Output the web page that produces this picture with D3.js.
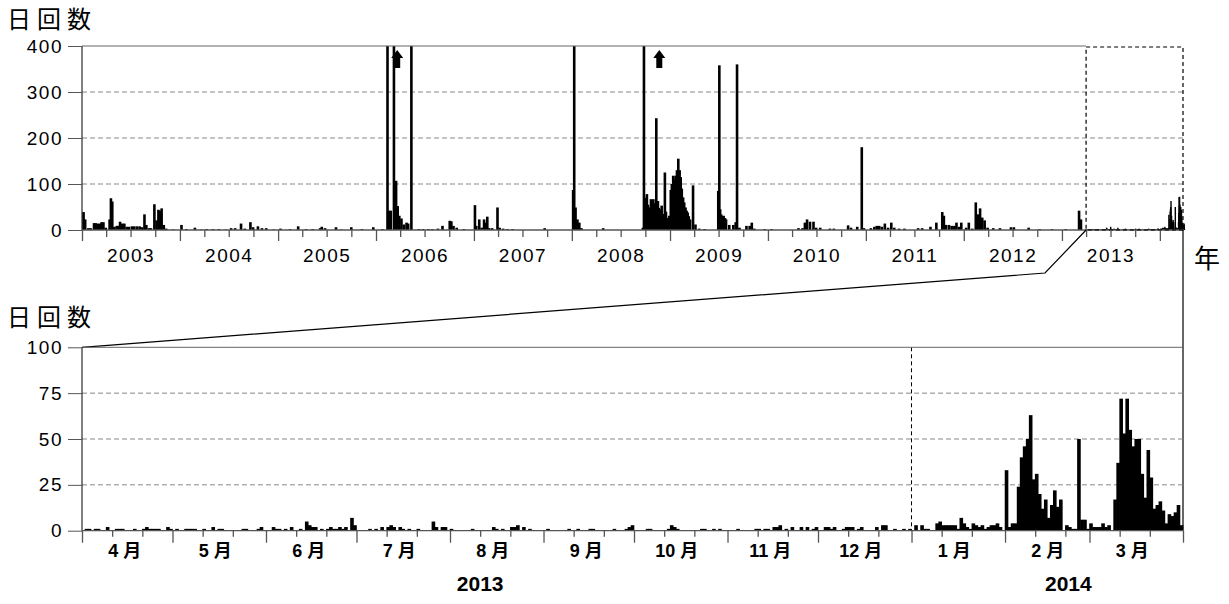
<!DOCTYPE html>
<html>
<head>
<meta charset="utf-8">
<script src="https://cdn.jsdelivr.net/npm/d3@7"></script>
<style>
  body { margin: 0; background: #fff; }
  svg { display: block; }
  .num { font-family: "Liberation Sans", Arial, sans-serif; font-size: 19px; letter-spacing: 1.5px; fill: #000; }
  .mon { font-family: "Liberation Sans", Arial, "Noto Sans CJK JP", sans-serif; font-size: 18px; font-weight: bold; fill: #000; }
  .yr { font-family: "Liberation Sans", Arial, sans-serif; font-size: 21px; font-weight: bold; fill: #000; }
  .cjk { font-family: "Noto Sans CJK JP", sans-serif; fill: #000; }
</style>
</head>
<body>
<svg id="chart" width="1229" height="604"></svg>
<script>
// ---- data: daily counts (日回数) ----
// long-term panel, 2003-01 .. 2013-03 (only days with events)
const topDates = [
  '2003-01-02','2003-01-08','2003-01-20','2003-01-28','2003-02-10','2003-02-16','2003-02-24','2003-03-04',
  '2003-03-10','2003-03-17','2003-03-26','2003-04-09','2003-04-14','2003-04-19','2003-04-27','2003-05-06',
  '2003-05-12','2003-05-18','2003-05-26','2003-06-03','2003-06-12','2003-06-20','2003-07-01','2003-07-10',
  '2003-07-20','2003-07-30','2003-08-08','2003-08-17','2003-08-24','2003-09-03','2003-09-10','2003-09-23',
  '2003-10-01','2003-10-08','2003-10-15','2003-10-20','2003-10-28','2003-11-06','2003-12-02',
  '2004-01-02','2004-01-20','2004-02-21','2004-03-15','2004-04-05','2004-04-28','2004-05-20','2004-06-15',
  '2004-07-05','2004-07-20','2004-08-11','2004-08-25','2004-09-15','2004-09-25','2004-10-13','2004-10-28',
  '2004-11-13','2004-12-10',
  '2005-01-05','2005-02-10','2005-03-12','2005-04-10','2005-05-05','2005-06-02','2005-06-08','2005-06-20',
  '2005-07-31','2005-08-20','2005-09-26','2005-11-05','2005-12-17',
  '2006-01-20','2006-02-08','2006-02-14','2006-02-20','2006-03-04','2006-03-12','2006-03-18','2006-03-24',
  '2006-04-01','2006-04-10','2006-04-20','2006-04-26','2006-05-08','2006-06-05','2006-06-20','2006-07-10',
  '2006-07-25','2006-08-15','2006-09-01','2006-09-28','2006-10-04','2006-10-12','2006-10-24','2006-11-20',
  '2006-12-31',
  '2007-01-05','2007-01-16','2007-01-25','2007-02-03','2007-02-09','2007-02-15','2007-02-22','2007-03-05',
  '2007-03-25','2007-04-02','2007-04-15','2007-05-01','2007-05-20','2007-09-17',
  '2008-01-01','2008-01-05','2008-01-10','2008-01-17','2008-01-24','2008-02-01','2008-04-22','2008-09-17',
  '2008-09-21','2008-09-27','2008-10-02','2008-10-06','2008-10-11','2008-10-17','2008-10-21','2008-10-26',
  '2008-10-30','2008-11-02','2008-11-06','2008-11-09','2008-11-12','2008-11-15','2008-11-18','2008-11-22',
  '2008-11-26','2008-11-30','2008-12-04','2008-12-08','2008-12-12','2008-12-16','2008-12-20','2008-12-24',
  '2008-12-30',
  '2009-01-03','2009-01-08','2009-01-12','2009-01-17','2009-01-22','2009-01-27','2009-02-01','2009-02-05',
  '2009-02-09','2009-02-14','2009-02-18','2009-02-23','2009-02-27','2009-03-03','2009-03-07','2009-03-12',
  '2009-03-23','2009-04-01','2009-04-15','2009-05-05','2009-06-25','2009-06-29','2009-07-02','2009-07-06',
  '2009-07-10','2009-07-15','2009-07-20','2009-07-24','2009-08-05','2009-08-20','2009-08-29','2009-09-03',
  '2009-09-12','2009-10-08','2009-10-20','2009-10-28','2009-11-06','2009-12-15',
  '2010-01-10','2010-04-20','2010-05-05','2010-05-14','2010-05-22','2010-06-02','2010-06-15','2010-06-25',
  '2010-07-10','2010-08-15','2010-08-30','2010-10-22','2010-11-02','2010-11-25','2010-12-12','2010-12-20',
  '2011-01-15','2011-01-28','2011-02-06','2011-02-15','2011-02-25','2011-03-08','2011-03-20','2011-04-01',
  '2011-04-12','2011-04-30','2011-05-20','2011-07-10','2011-07-25','2011-08-25','2011-09-16','2011-10-08',
  '2011-10-14','2011-10-22','2011-11-02','2011-11-12','2011-11-22','2011-11-30','2011-12-10','2011-12-18',
  '2012-01-05','2012-01-15','2012-01-28','2012-02-10','2012-02-18','2012-02-26','2012-03-05','2012-03-14',
  '2012-03-25','2012-04-15','2012-05-10','2012-06-20','2012-07-01','2012-08-25','2012-10-05','2012-11-20',
  '2013-01-10','2013-03-01','2013-03-08'
];
const topCounts = [
  39,23,4,4,15,15,14,14,
  17,17,5,23,69,62,7,9,
  9,18,14,14,7,7,8,8,
  8,8,6,34,11,4,4,56,
  21,44,42,47,11,3,1,
  11,2,5,1,2,2,2,1,
  4,4,14,3,17,6,8,4,
  4,1,
  3,2,8,2,2,4,7,4,
  6,1,6,2,6,
  2,900,42,42,1500,107,52,31,
  25,12,16,14,600,2,2,2,
  2,3,9,20,19,9,5,2,
  54,
  9,23,5,23,16,29,4,4,
  49,5,3,2,2,4,
  87,800,49,23,16,4,4,5,
  1000,70,78,55,49,67,60,67,
  50,58,243,55,63,48,42,45,
  53,35,28,125,40,20,26,31,
  87,
  100,118,110,118,130,155,130,115,
  90,71,60,49,42,38,30,23,
  97,12,3,2,85,358,45,34,
  30,31,26,23,11,11,17,360,
  5,9,9,16,3,2,
  2,4,4,16,23,18,18,5,
  5,3,3,10,5,7,180,4,
  4,7,9,9,7,14,5,16,
  5,3,3,4,4,7,16,39,
  31,11,11,9,9,16,7,16,
  5,16,3,60,34,47,27,21,
  5,4,4,6,6,5,2,2,
  2,42,23
];
// eruption markers (arrows)
const arrowDates = ['2006-03-21', '2008-11-22'];

// enlarged panel, one value per day from 2013-04-01
const zoomStart = '2013-04-01';
const apr2013 = [0,1,1,0,1,1,0,0,2,0,0,1,1,1,0,0,0,1,0,0,1,2,1,1,1,1,0,0,2,1];
const may2013 = [0,1,0,0,1,1,1,1,0,0,1,0,0,2,0,1,1,0,0,0,0,0,0,1,1,0,0,0,1,2,0];
const jun2013 = [0,0,2,1,1,0,1,0,2,0,0,1,0,5,3,2,2,0,1,0,1,2,1,1,2,1,2,0,7,3];
const jul2013 = [0,0,0,0,1,0,1,0,2,0,2,3,2,0,2,1,0,1,0,0,1,0,0,0,0,5,2,0,2,2,0];
const aug2013 = [1,0,0,0,0,0,0,1,0,0,0,0,0,0,2,1,0,1,0,0,2,2,3,0,2,0,1,0,0,0,0];
const sep2013 = [0,1,0,0,0,0,0,0,1,0,0,1,0,0,0,1,1,0,0,0,0,0,0,1,0,0,0,1,2,3];
const oct2013 = [0,0,0,0,1,1,0,0,0,0,0,1,3,2,1,0,0,0,0,0,0,0,1,1,0,0,1,0,1,0,0];
const nov2013 = [0,0,0,1,0,0,0,0,0,1,1,0,1,1,0,2,2,3,0,1,0,2,0,0,2,0,2,0,1,2];
const dec2013 = [0,0,2,2,1,2,0,0,1,2,2,2,0,1,2,0,0,0,0,2,0,3,3,0,0,1,0,0,1,0,1];
const jan2014 = [0,3,0,3,1,1,0,0,4,5,3,3,3,3,3,1,7,4,2,1,4,3,2,3,1,2,3,3,4,2,0];
const feb2014 = [33,2,4,4,24,40,46,50,63,28,31,20,12,17,7,14,22,13,17,0,3,2,1,1,50,6,6,1];
const mar2014 = [4,2,2,2,4,2,3,0,17,37,72,53,72,55,46,50,50,31,18,44,29,12,14,16,11,4,9,8,10,14,3];

const topYTicks = [0, 100, 200, 300, 400];
const bottomYTicks = [0, 25, 50, 75, 100];
const yearLabels = [
  {label: '2013', date: '2013-08-11'},
  {label: '2014', date: '2014-02-22'}
];

// ---- build ----
const parse = d3.utcParse('%Y-%m-%d');
const topData = topDates.map((d, i) => ({date: parse(d), value: topCounts[i]}));
const zoomCounts = [apr2013, may2013, jun2013, jul2013, aug2013, sep2013,
                    oct2013, nov2013, dec2013, jan2014, feb2014, mar2014].flat();
const z0 = parse(zoomStart);
const zoomData = zoomCounts.map((v, i) => ({date: d3.utcDay.offset(z0, i), value: v}));

const svg = d3.select('#chart');
const left = 82;

// ===== top panel =====
const tStart = parse('2003-01-01'), tEnd = parse('2014-04-01');
const xTop = d3.scaleUtc().domain([tStart, tEnd]).range([left, 1184]);
const yTop = d3.scaleLinear().domain([0, 400]).range([230, 46]).clamp(true);

const gTop = svg.append('g');

gTop.append('g').selectAll('line').data([100, 200, 300]).join('line')
    .attr('x1', left).attr('x2', xTop(tEnd))
    .attr('y1', d => yTop(d)).attr('y2', d => yTop(d))
    .attr('stroke', '#888').attr('stroke-dasharray', '5,3');

// bars
gTop.append('g').selectAll('rect').data(topData).join('rect')
    .attr('x', d => xTop(d.date))
    .attr('width', 2.6)
    .attr('y', d => yTop(d.value))
    .attr('height', d => yTop(0) - yTop(d.value))
    .attr('fill', '#000');
gTop.append('g').selectAll('rect').data(zoomData.filter(d => d.value > 0)).join('rect')
    .attr('x', d => xTop(d.date))
    .attr('width', 1.4)
    .attr('y', d => yTop(d.value))
    .attr('height', d => yTop(0) - yTop(d.value))
    .attr('fill', '#000');

// arrows
const arrowPath = 'M0,0 L6,8 L3,8 L3,18 L-3,18 L-3,8 L-6,8 Z';
gTop.append('g').selectAll('path').data(arrowDates).join('path')
    .attr('d', arrowPath)
    .attr('transform', d => `translate(${xTop(parse(d))},${yTop(400) + 4})`)
    .attr('fill', '#000');

// frame
gTop.append('line').attr('x1', left).attr('x2', xTop(z0)).attr('y1', yTop(400)).attr('y2', yTop(400))
    .attr('stroke', '#666');
gTop.append('line').attr('x1', left).attr('x2', left).attr('y1', yTop(400)).attr('y2', yTop(0))
    .attr('stroke', '#000');
gTop.append('line').attr('x1', left).attr('x2', xTop(tEnd)).attr('y1', yTop(0)).attr('y2', yTop(0))
    .attr('stroke', '#555').attr('stroke-width', 1.3);

// dashed box marking the enlarged period
gTop.append('rect')
    .attr('x', xTop(z0)).attr('y', yTop(400) + 1)
    .attr('width', xTop(tEnd) - 1 - xTop(z0)).attr('height', yTop(0) - yTop(400) - 1)
    .attr('fill', 'none').attr('stroke', '#000').attr('stroke-width', 1.2)
    .attr('stroke-dasharray', '4,3');

// y axis
const yAxTop = gTop.append('g').attr('transform', `translate(${left},0)`)
    .call(d3.axisLeft(yTop).tickValues(topYTicks).tickSize(14).tickPadding(5));
yAxTop.select('.domain').remove();
yAxTop.selectAll('line').attr('stroke', '#555');
yAxTop.selectAll('text').attr('class', 'num').attr('font-size', null).attr('font-family', null);

// x axis: year ticks, quarter ticks, year labels
const xAxYear = gTop.append('g').attr('transform', `translate(0,${yTop(0)})`)
    .call(d3.axisBottom(xTop).tickValues(d3.utcYear.range(tStart, tEnd)).tickSize(11).tickFormat(''));
const xAxQuarter = gTop.append('g').attr('transform', `translate(0,${yTop(0)})`)
    .call(d3.axisBottom(xTop).tickValues(d3.utcMonth.every(3).range(tStart, tEnd).filter(d => d.getUTCMonth() !== 0))
      .tickSize(7).tickFormat(''));
const midYears = d3.utcYear.range(tStart, parse('2014-01-01')).map(d => d3.utcMonth.offset(d, 6));
const xAxLab = gTop.append('g').attr('transform', `translate(0,${yTop(0)})`)
    .call(d3.axisBottom(xTop).tickValues(midYears).tickSize(0).tickPadding(19).tickFormat(d3.utcFormat('%Y')));
[xAxYear, xAxQuarter, xAxLab].forEach(a => {
  a.select('.domain').remove();
  a.selectAll('line').attr('stroke', '#555').attr('stroke-width', 1.3);
});
xAxLab.selectAll('text').attr('class', 'num').attr('font-size', null).attr('font-family', null);

svg.append('text').attr('class', 'cjk').attr('x', 7).attr('y', 28)
    .style('font-size', '24px').attr('letter-spacing', 6).text('日回数');
svg.append('text').attr('class', 'cjk').attr('x', 1194).attr('y', 268)
    .style('font-size', '26px').text('年');

// ===== bottom panel =====
const bEnd = tEnd;
const xBot = d3.scaleUtc().domain([z0, bEnd]).range([left, 1183]);
const yBot = d3.scaleLinear().domain([0, 100]).range([530.7, 347.3]);
const gBot = svg.append('g');

// connectors from the dashed box to the enlarged panel
gBot.append('polyline')
    .attr('points', [[xTop(z0), yTop(0)], [1045, 273], [xBot(z0), yBot(100)]].map(p => p.join(',')).join(' '))
    .attr('fill', 'none').attr('stroke', '#000').attr('stroke-width', 1.2);
gBot.append('line').attr('x1', xBot(bEnd)).attr('x2', xBot(bEnd)).attr('y1', yTop(0)).attr('y2', yBot(0))
    .attr('stroke', '#000').attr('stroke-width', 1.2);

gBot.append('g').selectAll('line').data([25, 50, 75]).join('line')
    .attr('x1', left).attr('x2', xBot(bEnd))
    .attr('y1', d => yBot(d)).attr('y2', d => yBot(d))
    .attr('stroke', '#888').attr('stroke-dasharray', '5,3');

// year boundary
const y2014 = parse('2014-01-01');
gBot.append('line').attr('x1', xBot(y2014)).attr('x2', xBot(y2014))
    .attr('y1', yBot(100)).attr('y2', yBot(0))
    .attr('stroke', '#000').attr('stroke-dasharray', '4,3');

gBot.append('g').selectAll('rect').data(zoomData.filter(d => d.value > 0)).join('rect')
    .attr('x', d => xBot(d.date) - 0.3)
    .attr('width', d => xBot(d3.utcDay.offset(d.date, 1)) - xBot(d.date) + 0.6)
    .attr('y', d => yBot(d.value))
    .attr('height', d => yBot(0) - yBot(d.value))
    .attr('fill', '#000');

gBot.append('line').attr('x1', left).attr('x2', xBot(bEnd)).attr('y1', yBot(100)).attr('y2', yBot(100))
    .attr('stroke', '#666');
gBot.append('line').attr('x1', left).attr('x2', left).attr('y1', yBot(100)).attr('y2', yBot(0))
    .attr('stroke', '#000');
gBot.append('line').attr('x1', left).attr('x2', xBot(bEnd)).attr('y1', yBot(0)).attr('y2', yBot(0))
    .attr('stroke', '#555').attr('stroke-width', 1.3);

const yAxBot = gBot.append('g').attr('transform', `translate(${left},0)`)
    .call(d3.axisLeft(yBot).tickValues(bottomYTicks).tickSize(14).tickPadding(5));
yAxBot.select('.domain').remove();
yAxBot.selectAll('line').attr('stroke', '#555');
yAxBot.selectAll('text').attr('class', 'num').attr('font-size', null).attr('font-family', null);

const months = d3.utcMonth.range(z0, bEnd);
const dekads = months.flatMap(m => [d3.utcDay.offset(m, 10), d3.utcDay.offset(m, 20)]);
const mAx = gBot.append('g').attr('transform', `translate(0,${yBot(0)})`)
    .call(d3.axisBottom(xBot).tickValues(months.concat([bEnd])).tickSize(12).tickFormat(''));
const dAx = gBot.append('g').attr('transform', `translate(0,${yBot(0)})`)
    .call(d3.axisBottom(xBot).tickValues(dekads).tickSize(6).tickFormat(''));
const labAx = gBot.append('g').attr('transform', `translate(0,${yBot(0)})`)
    .call(d3.axisBottom(xBot).tickValues(months.map(m => d3.utcDay.offset(m, 14)))
      .tickSize(0).tickPadding(14).tickFormat(d => (d.getUTCMonth() + 1) + ' 月'));
[mAx, dAx, labAx].forEach(a => {
  a.select('.domain').remove();
  a.selectAll('line').attr('stroke', '#555').attr('stroke-width', 1.3);
});
labAx.selectAll('text').attr('class', 'mon').attr('font-size', null).attr('font-family', null);

gBot.append('g').selectAll('text').data(yearLabels).join('text')
    .attr('class', 'yr')
    .attr('x', d => xBot(parse(d.date))).attr('y', 591)
    .attr('text-anchor', 'middle').text(d => d.label);

svg.append('text').attr('class', 'cjk').attr('x', 7).attr('y', 326)
    .style('font-size', '24px').attr('letter-spacing', 6).text('日回数');
</script>
</body>
</html>
